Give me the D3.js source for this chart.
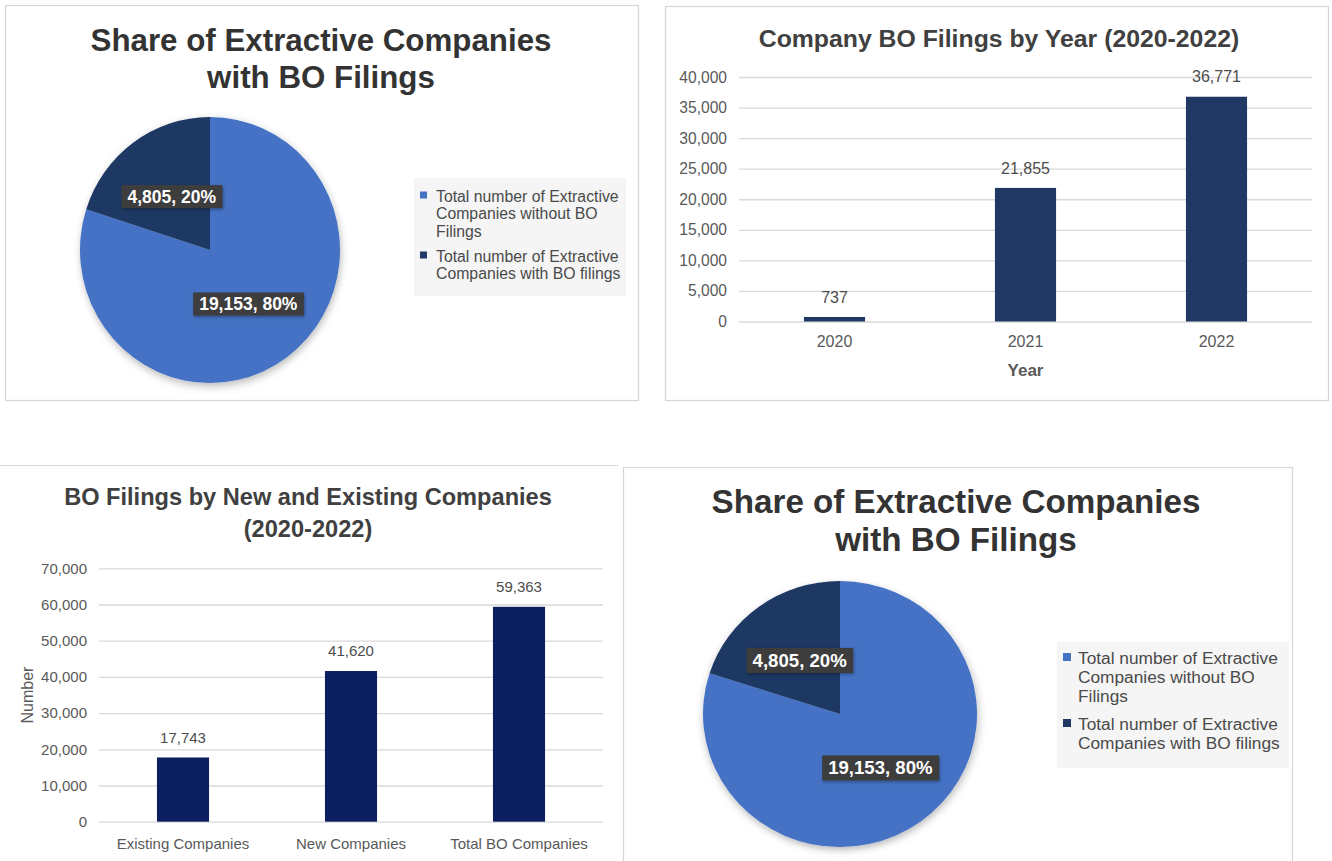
<!DOCTYPE html>
<html>
<head>
<meta charset="utf-8">
<script src="https://cdn.jsdelivr.net/npm/d3@7"></script>
<style>
  html, body { margin: 0; padding: 0; background: #ffffff; }
  svg { display: block; font-family: "Liberation Sans", Arial, Helvetica, sans-serif; }
</style>
</head>
<body>
<svg id="board" width="1332" height="861"></svg>
<script>
// ---- data ----
const pieTitleLines = ["Share of Extractive Companies", "with BO Filings"];
const pieCategories = [
  "Total number of Extractive Companies without BO Filings",
  "Total number of Extractive Companies with BO filings"
];
const pieLegendLines = [
  ["Total number of Extractive", "Companies without BO", "Filings"],
  ["Total number of Extractive", "Companies with BO filings"]
];
const pieValues = [19153, 4805];
const pieColors = ["#4472c4", "#1f3864"];

const yearTitle = "Company BO Filings by Year (2020-2022)";
const yearCategories = ["2020", "2021", "2022"];
const yearValues = [737, 21855, 36771];
const yearTicks = [0, 5000, 10000, 15000, 20000, 25000, 30000, 35000, 40000];
const yearAxisTitle = "Year";

const groupTitleLines = ["BO Filings by New and Existing Companies", "(2020-2022)"];
const groupCategories = ["Existing Companies", "New Companies", "Total BO Companies"];
const groupValues = [17743, 41620, 59363];
const groupTicks = [0, 10000, 20000, 30000, 40000, 50000, 60000, 70000];
const groupAxisTitle = "Number";

const fmt = d3.format(",");
const pct = d3.format(".0%");

const svg = d3.select("#board");
const defs = svg.append("defs");

defs.append("filter").attr("id", "pieShadow")
  .attr("x", "-20%").attr("y", "-20%").attr("width", "140%").attr("height", "140%")
  .append("feDropShadow")
  .attr("dx", 1).attr("dy", 3).attr("stdDeviation", 4)
  .attr("flood-color", "#000").attr("flood-opacity", 0.28);

defs.append("filter").attr("id", "tagShadow")
  .attr("x", "-20%").attr("y", "-30%").attr("width", "140%").attr("height", "160%")
  .append("feDropShadow")
  .attr("dx", 1).attr("dy", 1.5).attr("stdDeviation", 1.5)
  .attr("flood-color", "#000").attr("flood-opacity", 0.35);

// ---- panel frames ----
const frame = svg.append("g").attr("fill", "none").attr("stroke", "#d6d6d6").attr("stroke-width", 1.2);
frame.append("rect").attr("x", 5.5).attr("y", 5.5).attr("width", 633).attr("height", 395);
frame.append("rect").attr("x", 665.5).attr("y", 6.5).attr("width", 663).attr("height", 394);
frame.append("line").attr("x1", 0).attr("x2", 618).attr("y1", 465.5).attr("y2", 465.5);
frame.append("path").attr("d", "M623.5,870V467.5H1292.5V870");

// ---- pie chart ----
function drawPie(o) {
  const g = svg.append("g");
  const title = g.append("text")
    .attr("text-anchor", "middle")
    .attr("font-weight", "bold")
    .attr("font-size", o.titleSize)
    .attr("fill", "#333333");
  pieTitleLines.forEach((t, i) => {
    title.append("tspan").attr("x", o.titleX).attr("y", o.titleY + i * o.titleGap).text(t);
  });

  const total = d3.sum(pieValues);
  const pie = d3.pie().sort(null).value(d => d)(pieValues);
  const arc = d3.arc().innerRadius(0).outerRadius(o.r);

  const body = g.append("g")
    .attr("transform", `translate(${o.cx},${o.cy}) scale(${o.rx / o.r},${o.ry / o.r})`);
  body.append("g").attr("filter", "url(#pieShadow)")
    .selectAll("path").data(pie).join("path")
    .attr("d", arc)
    .attr("fill", (d, i) => pieColors[i]);

  // value tags at the slice centroids
  pie.forEach((d, i) => {
    const c = arc.centroid(d);
    const x = o.cx + c[0] * o.rx / o.r;
    const y = o.cy + c[1] * o.ry / o.r;
    const tag = g.append("g").attr("transform", `translate(${x},${y})`);
    const rect = tag.append("rect").attr("fill", "#3d3d3d").attr("filter", "url(#tagShadow)");
    const txt = tag.append("text")
      .attr("text-anchor", "middle")
      .attr("dy", "0.36em")
      .attr("font-weight", "bold")
      .attr("font-size", o.tagSize)
      .attr("fill", "#ffffff")
      .text(`${fmt(d.data)}, ${pct(d.data / total)}`);
    const bb = txt.node().getBBox();
    rect.attr("x", bb.x - o.tagPadX).attr("y", bb.y - o.tagPadY)
      .attr("width", bb.width + 2 * o.tagPadX).attr("height", bb.height + 2 * o.tagPadY);
  });

  // legend
  const lg = g.append("g");
  lg.append("rect")
    .attr("x", o.legX).attr("y", o.legY)
    .attr("width", o.legW).attr("height", o.legH)
    .attr("fill", "#f5f5f5");
  let y = o.legFirst;
  pieLegendLines.forEach((lines, i) => {
    lg.append("rect")
      .attr("x", o.swX).attr("y", y - o.sw / 2 - 1)
      .attr("width", o.sw).attr("height", o.sw)
      .attr("fill", pieColors[i]);
    lines.forEach((t, j) => {
      lg.append("text")
        .attr("x", o.txtX).attr("y", y + j * o.lineH)
        .attr("dy", "0.35em")
        .attr("font-size", o.legSize)
        .attr("fill", "#4a4a4a")
        .attr("aria-label", j === 0 ? pieCategories[i] : null)
        .text(t);
    });
    y += (lines.length - 1) * o.lineH + o.itemGap;
  });
}

drawPie({
  titleX: 321, titleY: 51, titleGap: 37, titleSize: 31.3,
  cx: 210, cy: 250, r: 131, rx: 130, ry: 133,
  tagSize: 17.5, tagPadX: 6, tagPadY: 1.5,
  legX: 414, legY: 178, legW: 212, legH: 118,
  swX: 420, sw: 7, txtX: 436, legFirst: 196, lineH: 17.5, itemGap: 25, legSize: 15.8
});

drawPie({
  titleX: 956, titleY: 513, titleGap: 38, titleSize: 33.2,
  cx: 840, cy: 714, r: 135, rx: 137, ry: 133,
  tagSize: 18.6, tagPadX: 6, tagPadY: 2,
  legX: 1057, legY: 642, legW: 232, legH: 126,
  swX: 1063, sw: 8, txtX: 1078, legFirst: 658, lineH: 19.2, itemGap: 27.6, legSize: 17.3
});

// ---- column charts ----
function drawColumns(o) {
  const g = svg.append("g");
  const title = g.append("text")
    .attr("text-anchor", "middle")
    .attr("font-weight", "bold")
    .attr("font-size", o.titleSize)
    .attr("fill", "#404040");
  o.titleLines.forEach((t, i) => {
    title.append("tspan").attr("x", o.titleX).attr("y", o.titleY + i * o.titleGap).text(t);
  });

  const x = d3.scaleBand().domain(o.categories).range([o.x0, o.x1]).padding(0);
  const y = d3.scaleLinear().domain([0, d3.max(o.ticks)]).range([o.y0, o.y1]);

  const ya = g.append("g")
    .attr("transform", `translate(${o.gx0},0)`)
    .call(d3.axisLeft(y).tickValues(o.ticks).tickFormat(fmt)
      .tickSize(-(o.gx1 - o.gx0)).tickPadding(12));
  ya.select(".domain").remove();
  ya.selectAll(".tick line").attr("stroke", "#d9d9d9").attr("stroke-width", 1.3);
  ya.selectAll(".tick text")
    .attr("font-size", o.tickSize).attr("fill", "#595959")
    .attr("font-family", "Liberation Sans, Arial, sans-serif");

  const xa = g.append("g")
    .attr("transform", `translate(0,${o.y0})`)
    .call(d3.axisBottom(x).tickSize(0).tickPadding(o.xPad));
  xa.select(".domain").remove();
  xa.selectAll(".tick text")
    .attr("font-size", o.catSize).attr("fill", "#595959")
    .attr("font-family", "Liberation Sans, Arial, sans-serif");

  const bw = x.bandwidth() * o.barFrac;
  g.append("g").selectAll("rect")
    .data(o.values).join("rect")
    .attr("x", (d, i) => x(o.categories[i]) + (x.bandwidth() - bw) / 2)
    .attr("y", d => y(d))
    .attr("width", bw)
    .attr("height", d => y(0) - y(d))
    .attr("fill", o.color);

  g.append("g").selectAll("text")
    .data(o.values).join("text")
    .attr("x", (d, i) => x(o.categories[i]) + x.bandwidth() / 2)
    .attr("y", d => y(d) - 20)
    .attr("dy", "0.35em")
    .attr("text-anchor", "middle")
    .attr("font-size", o.valSize)
    .attr("fill", "#4d4d4d")
    .text(d => fmt(d));

  if (o.xTitle) {
    g.append("text")
      .attr("x", (o.x0 + o.x1) / 2).attr("y", o.xTitleY)
      .attr("text-anchor", "middle")
      .attr("font-weight", "bold").attr("font-size", 17)
      .attr("fill", "#595959")
      .text(o.xTitle);
  }
  if (o.yTitle) {
    g.append("text")
      .attr("transform", `translate(${o.yTitleX},${(o.y0 + o.y1) / 2}) rotate(-90)`)
      .attr("text-anchor", "middle")
      .attr("dy", "0.35em")
      .attr("font-size", 16)
      .attr("fill", "#595959")
      .text(o.yTitle);
  }
}

drawColumns({
  titleLines: [yearTitle], titleX: 999, titleY: 47, titleGap: 0, titleSize: 24.8,
  categories: yearCategories, values: yearValues, ticks: yearTicks,
  x0: 739, x1: 1312, gx0: 739, gx1: 1312, y0: 321.5, y1: 77,
  barFrac: 0.32, color: "#1f3864",
  tickSize: 15.6, catSize: 16, valSize: 16, xPad: 14,
  xTitle: yearAxisTitle, xTitleY: 376
});

drawColumns({
  titleLines: groupTitleLines, titleX: 308, titleY: 505, titleGap: 32, titleSize: 23.6,
  categories: groupCategories, values: groupValues, ticks: groupTicks,
  x0: 99, x1: 603, gx0: 99, gx1: 603, y0: 821.7, y1: 568.3,
  barFrac: 0.31, color: "#0b1f5e",
  tickSize: 15, catSize: 15, valSize: 15, xPad: 17,
  yTitle: groupAxisTitle, yTitleX: 27
});
</script>
</body>
</html>
